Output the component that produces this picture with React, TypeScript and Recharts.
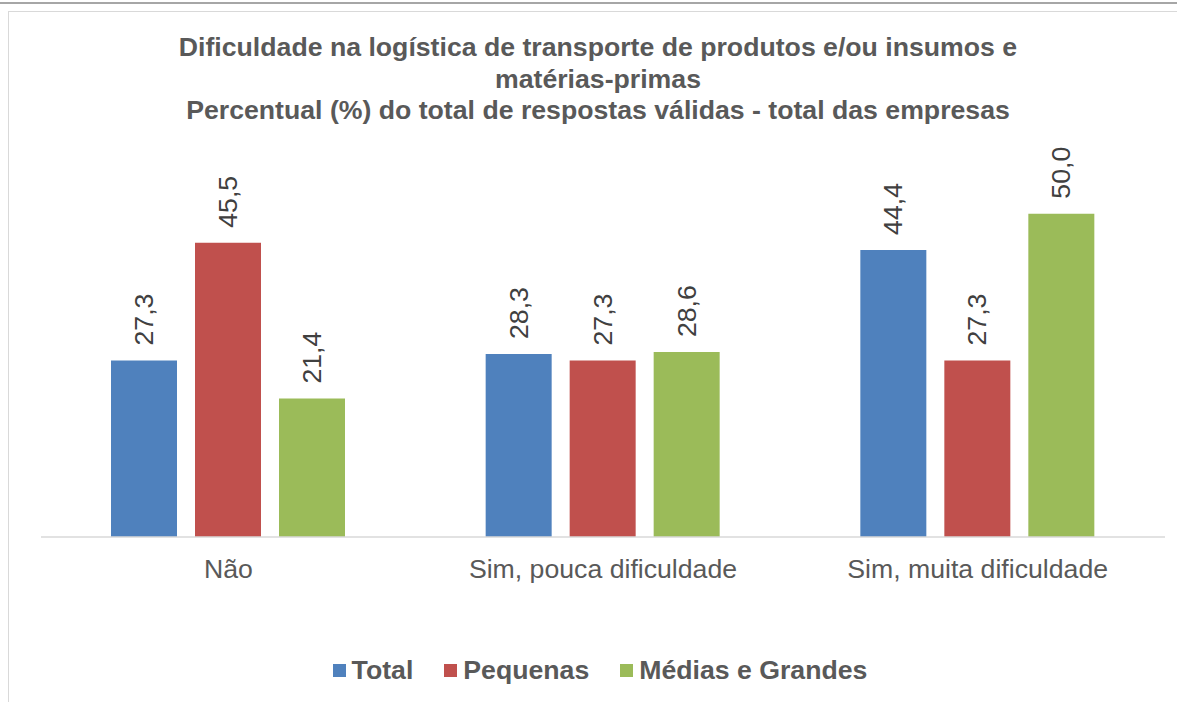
import { BarChart, Bar, XAxis, YAxis, LabelList } from 'recharts';

const categories = ['Não', 'Sim, pouca dificuldade', 'Sim, muita dificuldade'];
const total = [27.3, 28.3, 44.4];
const pequenas = [45.5, 27.3, 27.3];
const mediasGrandes = [21.4, 28.6, 50.0];

const series = [
  { key: 'total', name: 'Total', color: '#4F81BD' },
  { key: 'pequenas', name: 'Pequenas', color: '#C0504D' },
  { key: 'medias', name: 'Médias e Grandes', color: '#9BBB59' },
];

const data = categories.map((cat, i) => ({
  cat,
  total: total[i],
  pequenas: pequenas[i],
  medias: mediasGrandes[i],
}));

const FONT = '"Liberation Sans", Arial, sans-serif';
const FS = 26.67;

const fmt = (v: number) => v.toFixed(1).replace('.', ',');

const ValueLabel = (props: any) => {
  const { x, y, width, value } = props;
  const cx = x + width / 2;
  const ty = y - 15;
  return (
    <text
      x={cx}
      y={ty}
      transform={`rotate(-90, ${cx}, ${ty})`}
      textAnchor="start"
      dominantBaseline="central"
      fontSize={FS}
      fontFamily={FONT}
      fill="#404040"
    >
      {fmt(value)}
    </text>
  );
};

const App = () => {
  return (
    <div
      style={{
        position: 'absolute',
        left: 0,
        top: 0,
        width: 1177,
        height: 702,
        overflow: 'hidden',
        background: '#fff',
        fontFamily: FONT,
      }}
    >
      <style>{'html, body { overflow: hidden; margin: 0; }'}</style>
      <div style={{ position: 'absolute', left: 0, top: 2, width: 1177, height: 2, background: '#a6a6a6' }} />
      <div
        style={{
          position: 'absolute',
          left: 8,
          top: 11,
          width: 1250,
          height: 760,
          border: '1px solid #d9d9d9',
        }}
      />
      <div
        style={{
          position: 'absolute',
          left: 0,
          top: 32,
          width: 1196,
          textAlign: 'center',
          fontSize: FS,
          fontWeight: 'bold',
          lineHeight: '31.5px',
          color: '#595959',
        }}
      >
        <div>Dificuldade na logística de transporte de produtos e/ou insumos e</div>
        <div>matérias-primas</div>
        <div>Percentual (%) do total de respostas válidas - total das empresas</div>
      </div>
      <div style={{ position: 'absolute', left: 0, top: 0 }}>
        <BarChart
          width={1177}
          height={702}
          data={data}
          margin={{ top: 149, right: 12, left: 41, bottom: 135 }}
          barSize={66}
          barGap={18}
        >
          <XAxis
            dataKey="cat"
            height={30}
            interval={0}
            tickLine={false}
            tickMargin={16}
            axisLine={{ stroke: '#d9d9d9', strokeWidth: 1.5 }}
            tick={{ fontSize: FS, fill: '#595959', fontFamily: FONT }}
          />
          <YAxis hide domain={[0, 60]} />
          {series.map((s) => (
            <Bar key={s.key} dataKey={s.key} name={s.name} fill={s.color} isAnimationActive={false}>
              <LabelList dataKey={s.key} content={ValueLabel} />
            </Bar>
          ))}
        </BarChart>
      </div>
      <div
        style={{
          position: 'absolute',
          left: 0,
          top: 650,
          width: 1200,
          height: 40,
          display: 'flex',
          justifyContent: 'center',
          alignItems: 'center',
          gap: 31,
          fontSize: FS,
          fontWeight: 'bold',
          color: '#595959',
        }}
      >
        {series.map((s) => (
          <div key={s.key} style={{ display: 'flex', alignItems: 'center' }}>
            <span style={{ display: 'inline-block', width: 13, height: 13, background: s.color, marginRight: 6 }} />
            <span>{s.name}</span>
          </div>
        ))}
      </div>
    </div>
  );
};

export default App;
